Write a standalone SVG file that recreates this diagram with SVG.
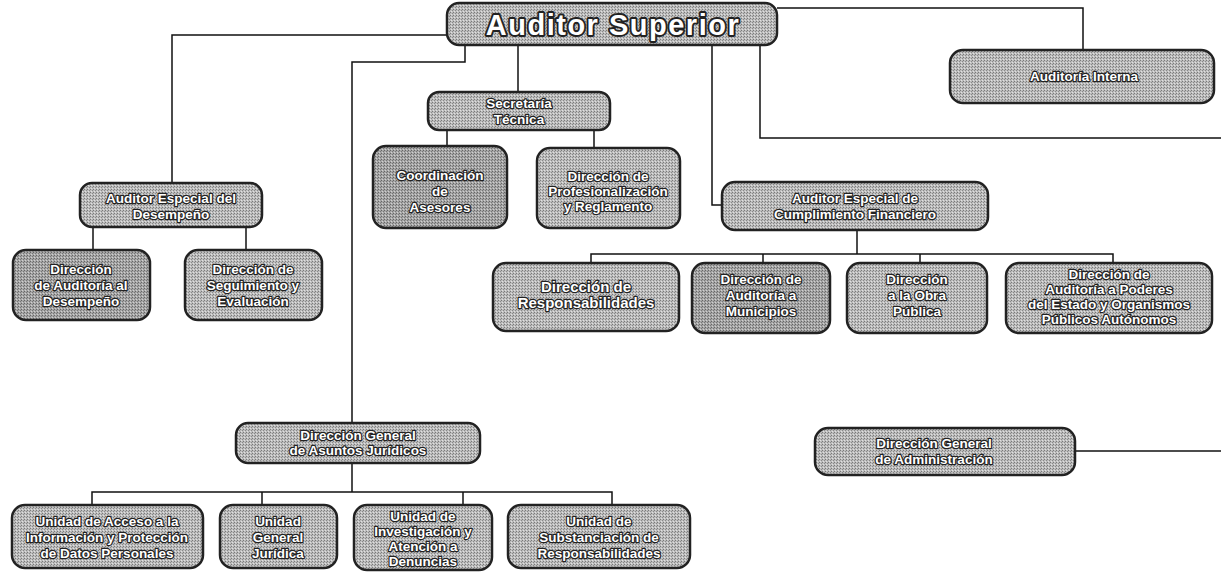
<svg xmlns="http://www.w3.org/2000/svg" width="1221" height="575" viewBox="0 0 1221 575">
<defs>
<pattern id="dith" width="3" height="3" patternUnits="userSpaceOnUse">
<rect width="3" height="3" fill="#bdbdbd"/>
<rect x="0" y="0" width="1" height="1" fill="#7a7a7a"/>
<rect x="2" y="1" width="1" height="1" fill="#8a8a8a"/>
<rect x="1" y="2" width="1" height="1" fill="#e0e0e0"/>
</pattern>
<pattern id="dithd" width="3" height="3" patternUnits="userSpaceOnUse">
<rect width="3" height="3" fill="#a6a6a6"/>
<rect x="0" y="0" width="1" height="1" fill="#666"/>
<rect x="2" y="1" width="1" height="1" fill="#777"/>
<rect x="1" y="2" width="1" height="1" fill="#d0d0d0"/>
</pattern>
</defs>
<style>
.box{fill:url(#dith);stroke:#222;stroke-width:2.5}
.dark{fill:url(#dithd)}
.t{font-family:"Liberation Sans",Arial,sans-serif;font-weight:bold;font-size:13.5px;fill:#fff;stroke:#222;stroke-width:2.4px;paint-order:stroke;stroke-linejoin:round;text-anchor:middle}
.big{font-size:29px;stroke-width:3.8px;letter-spacing:1.5px}
.w{font-size:15px}
.c{fill:none;stroke:#111;stroke-width:1.5}
</style>
<rect width="1221" height="575" fill="#fff"/>
<g id="connectors">
<path class="c" d="M447 35 H172 V183"/>
<path class="c" d="M777 8 H1083 V50"/>
<path class="c" d="M465 45 V62 H352 V423"/>
<path class="c" d="M518 45 V92"/>
<path class="c" d="M712 45 V205 H722"/>
<path class="c" d="M760 45 V138 H1221"/>
<path class="c" d="M447 130 V146"/>
<path class="c" d="M594 130 V148"/>
<path class="c" d="M93 227 V250"/>
<path class="c" d="M246 227 V250"/>
<path class="c" d="M857 230 V254"/>
<path class="c" d="M591 263 V254 H1113 V263"/>
<path class="c" d="M763 254 V263"/>
<path class="c" d="M920 254 V263"/>
<path class="c" d="M352 463 V492"/>
<path class="c" d="M92 505 V492 H612 V505"/>
<path class="c" d="M262 492 V505"/>
<path class="c" d="M463 492 V505"/>
<path class="c" d="M1075 451 H1221"/>
</g>
<g id="auditor-superior">
<rect class="box" x="447" y="3" width="330" height="42" rx="12"/>
<text class="t big" x="613" y="35">Auditor Superior</text>
</g>
<g id="auditoria-interna">
<rect class="box" x="950" y="50" width="264" height="53" rx="13"/>
<text class="t" x="1084" y="81">Auditoría Interna</text>
</g>
<g id="secretaria-tecnica">
<rect class="box" x="428" y="92" width="182" height="38" rx="11"/>
<text class="t" x="519" y="108">Secretaría</text>
<text class="t" x="519" y="124">Técnica</text>
</g>
<g id="coordinacion-asesores">
<rect class="box dark" x="373" y="146" width="134" height="82" rx="13"/>
<text class="t" x="440" y="180">Coordinación</text>
<text class="t" x="440" y="196">de</text>
<text class="t" x="440" y="212">Asesores</text>
</g>
<g id="direccion-profesionalizacion">
<rect class="box" x="537" y="148" width="143" height="80" rx="13"/>
<text class="t" x="608" y="181">Dirección de</text>
<text class="t" x="608" y="196">Profesionalización</text>
<text class="t" x="608" y="211">y Reglamento</text>
</g>
<g id="auditor-especial-desempeno">
<rect class="box" x="80" y="183" width="182" height="44" rx="12"/>
<text class="t" x="171" y="203">Auditor Especial del</text>
<text class="t" x="171" y="219">Desempeño</text>
</g>
<g id="direccion-auditoria-desempeno">
<rect class="box dark" x="13" y="250" width="137" height="70" rx="13"/>
<text class="t" x="81" y="274">Dirección</text>
<text class="t" x="81" y="290">de Auditoría al</text>
<text class="t" x="81" y="306">Desempeño</text>
</g>
<g id="direccion-seguimiento">
<rect class="box" x="185" y="250" width="137" height="70" rx="13"/>
<text class="t" x="253" y="274">Dirección de</text>
<text class="t" x="253" y="290">Seguimiento y</text>
<text class="t" x="253" y="306">Evaluación</text>
</g>
<g id="auditor-especial-cumplimiento">
<rect class="box" x="722" y="182" width="266" height="48" rx="13"/>
<text class="t" x="855" y="203">Auditor Especial de</text>
<text class="t" x="855" y="219">Cumplimiento Financiero</text>
</g>
<g id="direccion-responsabilidades">
<rect class="box" x="493" y="263" width="186" height="68" rx="13"/>
<text class="t w" x="586" y="292">Dirección de</text>
<text class="t w" x="586" y="308">Responsabilidades</text>
</g>
<g id="direccion-municipios">
<rect class="box dark" x="692" y="263" width="138" height="70" rx="13"/>
<text class="t" x="761" y="284">Dirección de</text>
<text class="t" x="761" y="300">Auditoría a</text>
<text class="t" x="761" y="316">Municipios</text>
</g>
<g id="direccion-obra-publica">
<rect class="box" x="847" y="263" width="140" height="70" rx="13"/>
<text class="t" x="917" y="284">Dirección</text>
<text class="t" x="917" y="300">a la Obra</text>
<text class="t" x="917" y="316">Pública</text>
</g>
<g id="direccion-poderes">
<rect class="box" x="1006" y="263" width="206" height="70" rx="13"/>
<text class="t" x="1109" y="279">Dirección de</text>
<text class="t" x="1109" y="294">Auditoría a Poderes</text>
<text class="t" x="1109" y="309">del Estado y Organismos</text>
<text class="t" x="1109" y="324">Públicos Autónomos</text>
</g>
<g id="direccion-juridicos">
<rect class="box" x="236" y="423" width="244" height="40" rx="12"/>
<text class="t" x="358" y="440">Dirección General</text>
<text class="t" x="358" y="455">de Asuntos Jurídicos</text>
</g>
<g id="direccion-administracion">
<rect class="box" x="815" y="428" width="260" height="47" rx="13"/>
<text class="t" x="934" y="448">Dirección General</text>
<text class="t" x="934" y="464">de Administración</text>
</g>
<g id="unidad-acceso">
<rect class="box" x="12" y="505" width="191" height="63" rx="13"/>
<text class="t" x="107" y="526">Unidad de Acceso a la</text>
<text class="t" x="107" y="542">Información y Protección</text>
<text class="t" x="107" y="558">de Datos Personales</text>
</g>
<g id="unidad-juridica">
<rect class="box" x="220" y="505" width="117" height="63" rx="13"/>
<text class="t" x="278" y="526">Unidad</text>
<text class="t" x="278" y="542">General</text>
<text class="t" x="278" y="558">Jurídica</text>
</g>
<g id="unidad-investigacion">
<rect class="box" x="354" y="505" width="138" height="65" rx="13"/>
<text class="t" x="423" y="521">Unidad de</text>
<text class="t" x="423" y="536">Investigación y</text>
<text class="t" x="423" y="551">Atención a</text>
<text class="t" x="423" y="566">Denuncias</text>
</g>
<g id="unidad-substanciacion">
<rect class="box" x="508" y="505" width="182" height="63" rx="13"/>
<text class="t" x="599" y="526">Unidad de</text>
<text class="t" x="599" y="542">Substanciación de</text>
<text class="t" x="599" y="558">Responsabilidades</text>
</g>
</svg>
